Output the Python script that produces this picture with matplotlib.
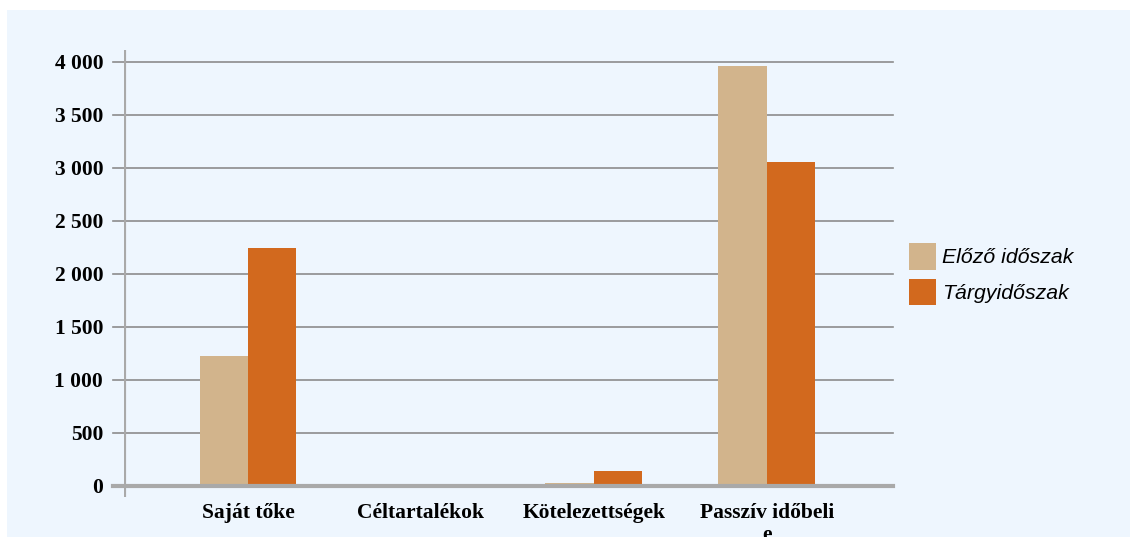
import numpy as np
import matplotlib.pyplot as plt
from matplotlib.patches import Rectangle

categories = ["Saját tőke", "Céltartalékok", "Kötelezettségek", "Passzív időbeli\ne"]
elozo = [1228, 0, 30, 3962]
targy = [2245, 0, 141, 3057]
series_names = ["Előző időszak", "Tárgyidőszak"]
yticks = [0, 500, 1000, 1500, 2000, 2500, 3000, 3500, 4000]
ytick_labels = ["0", "500", "1 000", "1 500", "2 000", "2 500", "3 000", "3 500", "4 000"]

W, H = 1130, 537
fig = plt.figure(figsize=(W / 100, H / 100), dpi=100)
fig.patch.set_facecolor("white")
# light blue panel, behind everything
fig.patches.append(Rectangle((7 / W, 0), 1 - 7 / W, 1 - 10 / H, transform=fig.transFigure,
                             facecolor="#EEF6FE", edgecolor="none", zorder=-10))

ax = fig.add_axes([124 / W, 1 - 497 / H, (893 - 124) / W, (497 - 50) / H])
ax.set_facecolor("none")

x = np.arange(len(categories))
w = 0.28
ax.bar(x - w / 2, elozo, w, color="#D2B48C", label=series_names[0], zorder=3)
ax.bar(x + w / 2, targy, w, color="#D2691E", label=series_names[1], zorder=3)

ax.set_xlim(-0.717, 3.73)
ax.set_ylim(-104, 4113)

for s in ax.spines.values():
    s.set_visible(False)
# left axis line
ax.axvline(-0.717, color="#A9A9A9", lw=3, zorder=4)

for yv in yticks:
    ax.plot([-0.717 - 11 / 173, 3.73], [yv, yv], color="#8C8C8C" if yv else "#A9A9A9",
            lw=1.2 if yv else 3, clip_on=False, zorder=2 if yv else 4)

ax.set_yticks(yticks)
ax.set_yticklabels(ytick_labels, fontfamily="Liberation Serif", fontweight="bold", fontsize=15.5)
ax.tick_params(axis="y", length=0, pad=15)
ax.set_xticks(x)
ax.set_xticklabels(categories, fontfamily="Liberation Serif", fontweight="bold", fontsize=15.5,
                   linespacing=1.15)
ax.tick_params(axis="x", length=0, pad=4)

leg = ax.legend(loc="upper left", bbox_to_anchor=(909 / W, 1 - 243 / H),
                bbox_transform=fig.transFigure, frameon=False, borderpad=0, borderaxespad=0,
                prop={"family": "Liberation Sans", "style": "italic", "size": 15.3},
                handlelength=1.27, handleheight=1.55, handletextpad=0.3, labelspacing=0.42)

fig.savefig("out.png", dpi=100)
